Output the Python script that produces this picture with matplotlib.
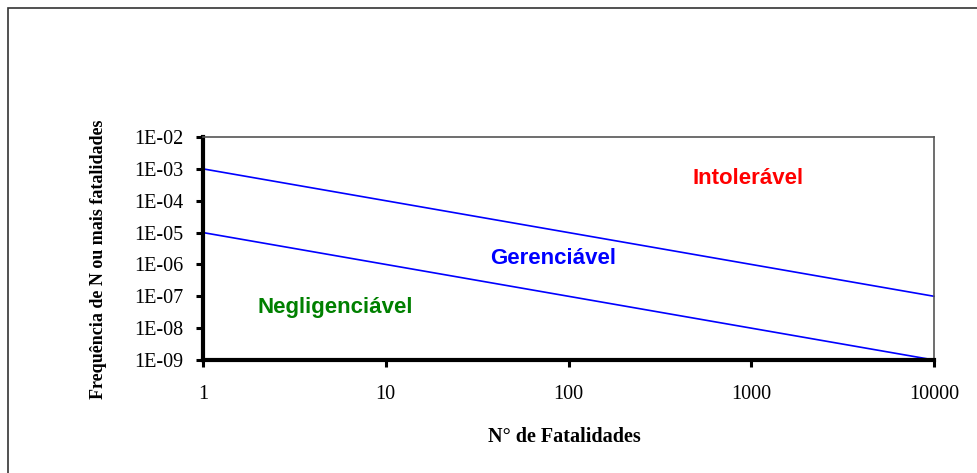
import math
import matplotlib
matplotlib.use('Agg')
import matplotlib.pyplot as plt
from matplotlib.patches import Rectangle
from matplotlib.ticker import FixedLocator, FuncFormatter

# criterios de tolerabilidade (curvas F-N)
fatalidades = [1, 10000]
limite_sup = [1e-3, 1e-7]
limite_inf = [1e-5, 1e-9]
xticks = [1, 10, 100, 1000, 10000]
yticks = [1e-9, 1e-8, 1e-7, 1e-6, 1e-5, 1e-4, 1e-3, 1e-2]
regioes = ['Intolerável', 'Gerenciável', 'Negligenciável']
pos_regioes = [(960, 10**-3.29), (82, 10**-5.8), (5.3, 10**-7.34)]
cores_regioes = ['#ff0000', '#0000ff', '#008000']

serif = ['Liberation Serif', 'DejaVu Serif']
sans = ['Liberation Sans', 'DejaVu Sans']

fig = plt.figure(figsize=(9.77, 4.73), dpi=100)
# moldura da figura
fig.patches.append(Rectangle((8/977, -0.1), 1.2, (473-8)/473 + 0.1,
                             transform=fig.transFigure, fill=False,
                             edgecolor='#333333', linewidth=1.2, clip_on=False))

ax = fig.add_axes([203/977, (473-360)/473, (934-203)/977, (360-137)/473])
ax.set_xscale('log')
ax.set_yscale('log')
ax.set_xlim(1, 10000)
ax.set_ylim(1e-9, 1e-2)

ax.plot(fatalidades, limite_sup, color='#0000ff', linewidth=1.2, clip_on=False)
ax.plot(fatalidades, limite_inf, color='#0000ff', linewidth=1.2, clip_on=False)

for txt, (x, y), c in zip(regioes, pos_regioes, cores_regioes):
    ax.text(x, y, txt, color=c, ha='center', va='center', fontsize=16,
            fontweight='bold', family=sans)

ax.xaxis.set_major_locator(FixedLocator(xticks))
ax.yaxis.set_major_locator(FixedLocator(yticks))
ax.xaxis.set_minor_locator(FixedLocator([]))
ax.yaxis.set_minor_locator(FixedLocator([]))
ax.xaxis.set_major_formatter(FuncFormatter(lambda v, p: '%d' % round(v)))
ax.yaxis.set_major_formatter(FuncFormatter(lambda v, p: '1E-%02d' % round(-math.log10(v))))

for lab in ax.get_xticklabels() + ax.get_yticklabels():
    lab.set_family(serif)
    lab.set_fontsize(14.5)

ax.tick_params(axis='both', direction='out', length=5, width=2.2, color='black', pad=9)
ax.tick_params(axis='x', pad=13)

for s in ['left', 'bottom']:
    ax.spines[s].set_linewidth(3)
    ax.spines[s].set_color('black')
for s in ['top', 'right']:
    ax.spines[s].set_linewidth(1.2)
    ax.spines[s].set_color('#555555')

ax.set_xlabel('N° de Fatalidades', family=serif, fontsize=14.5, fontweight='bold')
ax.set_ylabel('Frequência de N ou mais fatalidades', family=serif, fontsize=13,
              fontweight='bold')
ax.xaxis.set_label_coords(0.495, -0.300)
ax.yaxis.set_label_coords(-0.131, 0.453)

fig.savefig('out.png', dpi=100)
